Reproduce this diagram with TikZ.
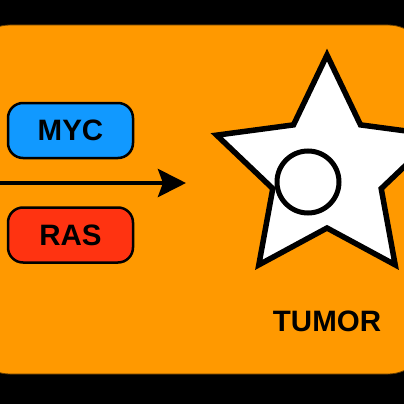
\documentclass[tikz,border=0pt]{standalone}
\usepackage{fontspec}
\setmainfont{Liberation Sans}
\usetikzlibrary{arrows.meta}
\definecolor{bgorange}{RGB}{255,153,0}
\definecolor{mycblue}{RGB}{17,153,255}
\definecolor{rasred}{RGB}{255,51,17}
\tikzset{
  genebox/.style={draw=black, line width=2.5pt, rounded corners=15pt, minimum width=125pt, minimum height=55pt, inner sep=0pt, font=\fontsize{29.5}{30}\selectfont\bfseries},
  label/.style={font=\fontsize{29.5}{30}\selectfont\bfseries, inner sep=0pt},
}
\begin{document}
\begin{tikzpicture}[x=1pt,y=-1pt]
\fill[black] (0,0) rectangle (404,404);
\useasboundingbox (0,0) rectangle (404,404);
\fill[bgorange, draw=black!60!bgorange, line width=0.8pt, rounded corners=40pt] (-30,25) rectangle (428,374);
\node[genebox, fill=mycblue] (myc) at (70.5,130.5) {MYC};
\node[genebox, fill=rasred] (ras) at (70.5,235) {RAS};
\coordinate (arrstart) at (-5,183);
\coordinate (arrend) at (186,183);
\draw[line width=4.5pt, -{Stealth[length=28pt,width=28pt,inset=5pt]}] (arrstart) -- (arrend);
\coordinate (star) at (327,171);
\draw[line width=5.5pt, fill=white, line join=miter, shift={(star)}]
  (-90:116) -- (-54:57) -- (-18:116) -- (18:57) -- (54:116) -- (90:57) -- (126:116) -- (162:57) -- (198:116) -- (234:57) -- cycle;
\node[draw=black, line width=5pt, fill=white, circle, minimum size=62pt, inner sep=0pt] (nucleus) at (308,182) {};
\node[label] (tumor) at (327,321) {TUMOR};
\end{tikzpicture}
\end{document}
